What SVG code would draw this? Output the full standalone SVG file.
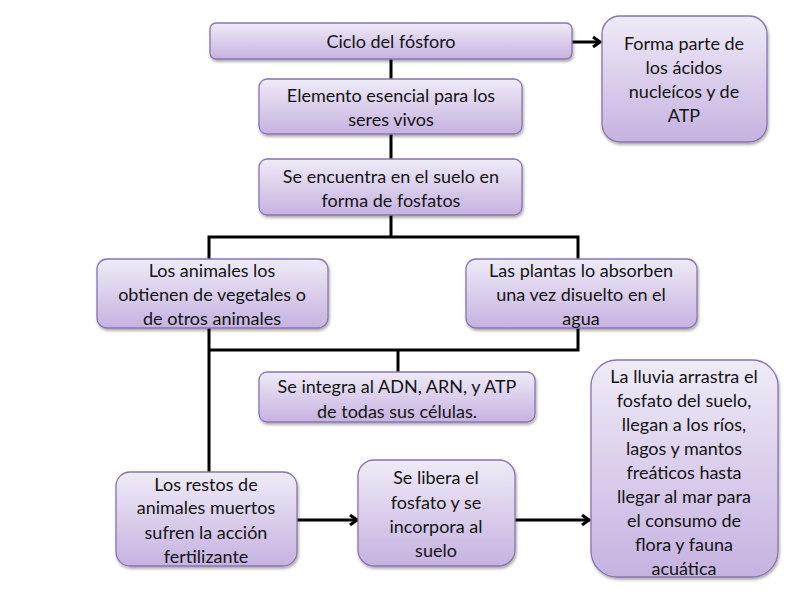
<svg xmlns="http://www.w3.org/2000/svg" width="793" height="591" viewBox="0 0 793 591">
<defs>
<linearGradient id="g" x1="0" y1="0" x2="0" y2="1">
<stop offset="0" stop-color="#efebf7"/>
<stop offset="1" stop-color="#c6b2e0"/>
</linearGradient>
<filter id="sh" x="-10%" y="-10%" width="130%" height="130%">
<feGaussianBlur in="SourceAlpha" stdDeviation="1.5"/>
<feOffset dx="1" dy="2" result="b"/>
<feComponentTransfer><feFuncA type="linear" slope="0.35"/></feComponentTransfer>
<feMerge><feMergeNode/><feMergeNode in="SourceGraphic"/></feMerge>
</filter>
<marker id="ah" markerWidth="12" markerHeight="12" refX="10" refY="6" orient="auto" markerUnits="userSpaceOnUse">
<path d="M3,1 L10,6 L3,11" fill="none" stroke="#000" stroke-width="3"/>
</marker>
</defs>
<style>
.box{fill:url(#g);stroke:#8a76ad;stroke-width:1.3;filter:url(#sh)}
.t{font-family:Lato,"Open Sans",sans-serif;font-size:18px;fill:#141414;text-anchor:middle}
.c{fill:none;stroke:#000;stroke-width:3}
</style>
<rect width="793" height="591" fill="#fff"/>
<g id="connectors">
<line class="c" x1="572" y1="42" x2="600" y2="42" marker-end="url(#ah)"/>
<line class="c" x1="391" y1="59" x2="391" y2="79"/>
<line class="c" x1="391" y1="134" x2="391" y2="159"/>
<polyline class="c" points="391,215 391,237"/>
<polyline class="c" points="209,260 209,237 578,237 578,260"/>
<polyline class="c" points="578,328 578,350 209,350"/>
<line class="c" x1="209" y1="328" x2="209" y2="472"/>
<line class="c" x1="398" y1="350" x2="398" y2="372"/>
<line class="c" x1="297" y1="520" x2="357" y2="520" marker-end="url(#ah)"/>
<line class="c" x1="515" y1="520" x2="589" y2="520" marker-end="url(#ah)"/>
</g>
<g id="n1"><rect class="box" x="210" y="23" width="362" height="36" rx="6"/>
<text class="t" x="391" y="48">Ciclo del fósforo</text></g>
<g id="n2"><rect class="box" x="602" y="16" width="165" height="126" rx="18"/>
<text class="t" x="684" y="50">Forma parte de</text>
<text class="t" x="684" y="74">los ácidos</text>
<text class="t" x="684" y="98">nucleícos y de</text>
<text class="t" x="684" y="122">ATP</text></g>
<g id="n3"><rect class="box" x="259" y="79" width="263" height="55" rx="8"/>
<text class="t" x="391" y="102">Elemento esencial para los</text>
<text class="t" x="391" y="126">seres vivos</text></g>
<g id="n4"><rect class="box" x="259" y="159" width="263" height="56" rx="8"/>
<text class="t" x="391" y="183">Se encuentra en el suelo en</text>
<text class="t" x="391" y="207">forma de fosfatos</text></g>
<g id="n5"><rect class="box" x="97" y="259" width="231" height="69" rx="10"/>
<text class="t" x="212" y="277">Los animales los</text>
<text class="t" x="212" y="301">obtienen de vegetales o</text>
<text class="t" x="212" y="325">de otros animales</text></g>
<g id="n6"><rect class="box" x="466" y="259" width="231" height="69" rx="10"/>
<text class="t" x="581" y="277">Las plantas lo absorben</text>
<text class="t" x="581" y="301">una vez disuelto en el</text>
<text class="t" x="581" y="325">agua</text></g>
<g id="n7"><rect class="box" x="259" y="372" width="276" height="50" rx="8"/>
<text class="t" x="397" y="393">Se integra al ADN, ARN, y ATP</text>
<text class="t" x="397" y="418">de todas sus células.</text></g>
<g id="n8"><rect class="box" x="116" y="472" width="181" height="94" rx="14"/>
<text class="t" x="206" y="491">Los restos de</text>
<text class="t" x="206" y="514">animales muertos</text>
<text class="t" x="206" y="539">sufren la acción</text>
<text class="t" x="206" y="563">fertilizante</text></g>
<g id="n9"><rect class="box" x="358" y="460" width="157" height="106" rx="16"/>
<text class="t" x="436" y="484">Se libera el</text>
<text class="t" x="436" y="509">fosfato y se</text>
<text class="t" x="436" y="533">incorpora al</text>
<text class="t" x="436" y="557">suelo</text></g>
<g id="n10"><rect class="box" x="591" y="360" width="187" height="217" rx="26"/>
<text class="t" x="684" y="383">La lluvia arrastra el</text>
<text class="t" x="684" y="407">fosfato del suelo,</text>
<text class="t" x="684" y="431">llegan a los ríos,</text>
<text class="t" x="684" y="455">lagos y mantos</text>
<text class="t" x="684" y="479">freáticos hasta</text>
<text class="t" x="684" y="503">llegar al mar para</text>
<text class="t" x="684" y="527">el consumo  de</text>
<text class="t" x="684" y="551">flora y fauna</text>
<text class="t" x="684" y="575">acuática</text></g>
</svg>
